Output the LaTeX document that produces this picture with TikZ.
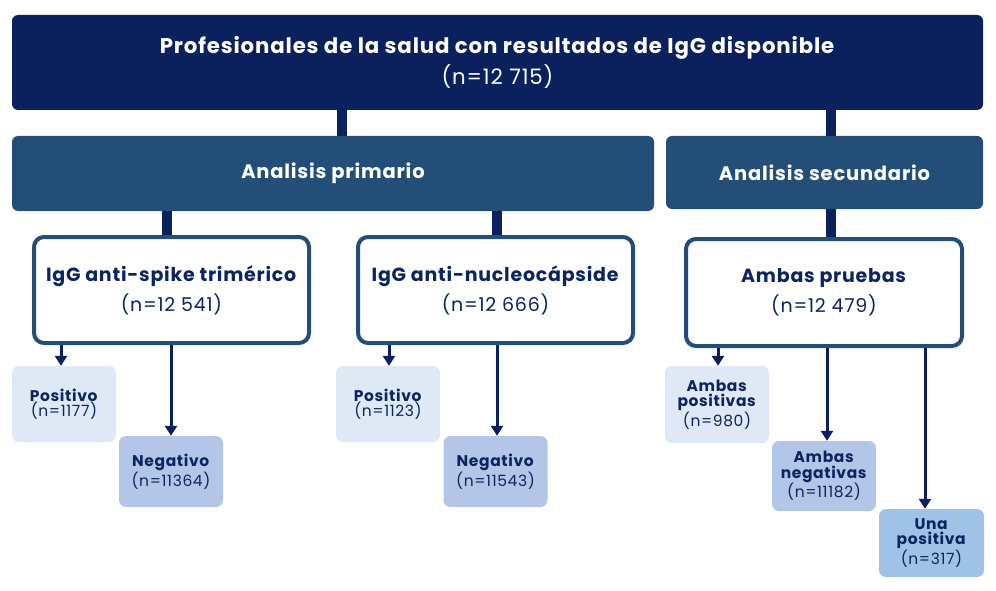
\documentclass[tikz,border=0pt]{standalone}
\usepackage{fontspec}
\setmainfont{Poppins}[LetterSpace=4]
\usetikzlibrary{arrows.meta}
\definecolor{navy}{HTML}{0A215E}
\definecolor{midblue}{HTML}{234E78}
\definecolor{lightA}{HTML}{DEE9F5}
\definecolor{lightB}{HTML}{B4C6E7}
\definecolor{lightC}{HTML}{9EC3E6}
\definecolor{txt}{HTML}{0B2560}
\tikzset{
  topbox/.style={fill=navy, rounded corners=6pt, text=white, align=center, inner sep=0pt, font=\fontsize{21.3}{24}\selectfont},
  secbox/.style={fill=midblue, rounded corners=6pt, text=white, align=center, inner sep=0pt, font=\bfseries\fontsize{19.5}{22}\selectfont},
  testbox/.style={draw=midblue, line width=4pt, fill=white, rounded corners=10pt, text=txt, align=center, inner sep=0pt, minimum width=275pt, minimum height=106pt, font=\fontsize{19}{22}\selectfont},
  resbox/.style={rounded corners=7pt, text=txt, align=center, inner sep=0pt, minimum width=104pt, font=\fontsize{15.5}{15.5}\selectfont},
  bar/.style={navy, line width=10pt},
  arr/.style={navy, line width=3pt, -{Triangle[width=12pt,length=10pt]}},
}
\begin{document}
\begin{tikzpicture}[x=1pt,y=-1pt]
\useasboundingbox (0,0) rectangle (996,591);
\node[topbox, minimum width=971pt, minimum height=95pt] (top) at (497.5,62.5)
  {\textbf{Profesionales de la salud con resultados de IgG disponible}\\[5pt](n=12 715)};
\node[secbox, minimum width=642pt, minimum height=75pt] (prim) at (333,173.5) {Analisis primario};
\node[secbox, minimum width=317pt, minimum height=73pt] (sec) at (824.5,172.5) {Analisis secundario};
\node[testbox] (spike) at (171.5,290)
  {\textbf{IgG anti-spike trimérico}\\[6pt](n=12 541)};
\node[testbox] (nucleo) at (495.5,290)
  {\textbf{IgG anti-nucleocápside}\\[6pt](n=12 666)};
\node[testbox, minimum width=276pt, minimum height=107pt] (ambas) at (824,292.5)
  {\textbf{Ambas pruebas}\\[6pt](n=12 479)};
% results
\node[resbox, fill=lightA, minimum height=76pt] (pos1) at (64,404)
  {\textbf{Positivo}\\(n=1177)};
\node[resbox, fill=lightB, minimum height=71pt] (neg1) at (171,471.5)
  {\textbf{Negativo}\\(n=11364)};
\node[resbox, fill=lightA, minimum height=76pt] (pos2) at (388,404)
  {\textbf{Positivo}\\(n=1123)};
\node[resbox, fill=lightB, minimum height=71pt] (neg2) at (495.5,471.5)
  {\textbf{Negativo}\\(n=11543)};
\node[resbox, fill=lightA, minimum height=77pt] (ap) at (717,404.5)
  {\textbf{Ambas}\\\textbf{positivas}\\(n=980)};
\node[resbox, fill=lightB, minimum height=70pt] (an) at (824,476)
  {\textbf{Ambas}\\\textbf{negativas}\\(n=11182)};
\node[resbox, fill=lightC, minimum width=105pt, minimum height=68pt] (up) at (931.5,543)
  {\textbf{Una}\\\textbf{positiva}\\(n=317)};
% bars
\draw[bar] (top.south -| 342,0) -- (prim.north -| 342,0);
\draw[bar] (top.south -| 831,0) -- (sec.north -| 831,0);
\draw[bar] (prim.south -| 167,0) -- (spike.north -| 167,0);
\draw[bar] (prim.south -| 497,0) -- (nucleo.north -| 497,0);
\draw[bar] (sec.south -| 831,0) -- (ambas.north -| 831,0);
% arrows
\draw[arr] (spike.south -| 61,0) -- (pos1.north -| 61,0);
\draw[arr] (spike.south -| 171,0) -- (neg1.north -| 171,0);
\draw[arr] (nucleo.south -| 389,0) -- (pos2.north -| 389,0);
\draw[arr] (nucleo.south -| 497,0) -- (neg2.north -| 497,0);
\draw[arr] (ambas.south -| 718,0) -- (ap.north -| 718,0);
\draw[arr] (ambas.south -| 827,0) -- (an.north -| 827,0);
\draw[arr] (ambas.south -| 925,0) -- (up.north -| 925,0);
\end{tikzpicture}
\end{document}
